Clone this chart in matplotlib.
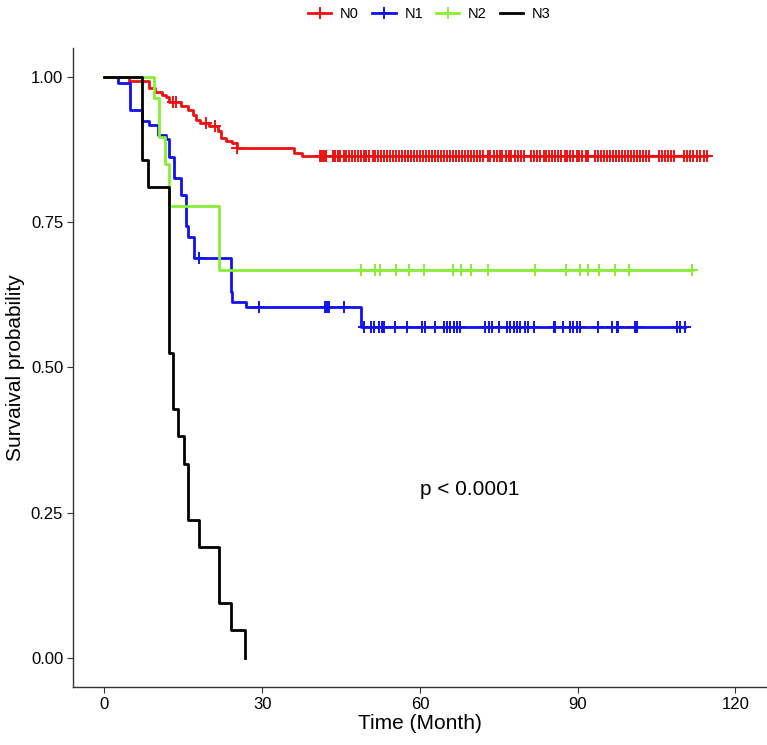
import numpy as np
import matplotlib
matplotlib.use('Agg')
import matplotlib.pyplot as plt
from matplotlib.lines import Line2D

plt.rcParams['font.family'] = ['Liberation Sans', 'DejaVu Sans']

# Kaplan-Meier step data (time in months, survival)
n0_time = [0, 4.7, 8.5, 9.7, 10.9, 11.7, 12.3, 14.5, 15.8, 16.8, 17.4, 18.2,
           19.9, 21.6, 22.1, 23.1, 24.3, 25.3, 36.0, 37.6]
n0_surv = [1.0, 0.992, 0.981, 0.973, 0.969, 0.965, 0.957, 0.949, 0.943, 0.935,
           0.926, 0.920, 0.916, 0.906, 0.894, 0.890, 0.886, 0.877, 0.869, 0.864]
n0_end = 114.5
n0_censor = [13.0, 13.7, 19.4, 21.0, 25.3,
             41.0, 41.4, 41.8, 42.2, 43.4, 43.9, 44.4, 44.8, 45.5, 46.0, 46.5,
             47.0, 47.6, 48.2, 48.7, 49.3, 49.8, 50.4, 51.0, 51.5, 52.1, 52.6,
             53.2, 53.8, 54.3, 54.9, 55.5, 56.0, 56.6, 57.2, 57.7, 58.3, 58.9,
             59.5, 60.0, 60.6, 61.2, 61.8, 62.3, 62.9, 63.5, 64.0, 64.6, 65.2,
             65.8, 66.3, 66.9, 67.5, 68.0, 68.6, 69.2, 69.8, 70.3, 70.9, 71.5,
             72.0, 72.9, 73.4, 74.0, 74.6, 75.2, 75.7, 76.3, 76.9, 77.4, 78.0,
             78.6, 79.2, 79.8, 81.2, 81.7, 82.3, 82.9, 83.5, 84.0, 84.6, 85.2,
             85.7, 86.3, 86.9, 87.5, 88.0, 88.6, 89.2, 89.8, 90.3, 90.9, 91.5,
             92.0, 93.3, 93.8, 94.4, 95.0, 95.5, 96.1, 96.7, 97.3, 97.8, 98.4,
             99.0, 99.6, 100.1, 100.7, 101.3, 101.8, 102.4, 103.0, 103.6, 105.4,
             106.0, 106.6, 107.2, 107.8, 108.4, 110.2, 110.8, 111.4, 112.0,
             112.6, 113.2, 114.0, 114.5]

n1_time = [0, 2.5, 4.9, 7.1, 8.5, 10.1, 11.7, 12.3, 13.3, 14.5, 15.5, 15.9,
           17.0, 24.0, 24.3, 26.9, 48.8]
n1_surv = [1.0, 0.989, 0.943, 0.924, 0.917, 0.900, 0.892, 0.862, 0.826, 0.797,
           0.743, 0.725, 0.688, 0.630, 0.612, 0.604, 0.570]
n1_end = 110.4
n1_censor = [17.9, 29.4, 41.9, 42.4, 42.8, 45.5, 49.3, 50.6, 51.2, 52.2, 52.7,
             53.1, 55.3, 57.6, 60.4, 61.0, 62.9, 64.5, 65.1, 65.8, 66.4, 67.0,
             67.7, 72.4, 73.1, 73.7, 75.0, 76.5, 77.2, 77.8, 78.4, 79.1, 79.9,
             80.6, 81.6, 85.4, 85.7, 87.3, 88.6, 89.2, 89.8, 90.5, 93.9, 96.5,
             97.4, 97.7, 100.9, 101.2, 108.8, 109.4, 110.4]

n2_time = [0, 9.5, 10.3, 11.5, 12.2, 21.7]
n2_surv = [1.0, 0.963, 0.897, 0.849, 0.778, 0.667]
n2_end = 111.8
n2_censor = [48.7, 51.4, 52.5, 55.5, 57.9, 60.8, 66.2, 67.8, 69.8, 72.9, 81.9,
             87.7, 90.5, 91.9, 94.1, 97.1, 99.8, 111.8]

n3_time = [0, 7.15, 8.2, 12.2, 13.0, 14.0, 15.2, 15.9, 17.9, 21.7, 24.0, 26.8]
n3_surv = [1.0, 0.857, 0.810, 0.524, 0.429, 0.381, 0.333, 0.238, 0.190, 0.095,
           0.048, 0.0]
n3_end = 26.8
n3_censor = []

groups = ['N0', 'N1', 'N2', 'N3']
colors = ['#EE1111', '#1111EE', '#88EE33', '#000000']

fig = plt.figure(figsize=(7.67, 7.45), dpi=100)
ax = fig.add_axes([0.095, 0.078, 0.905, 0.858])

curves = [(n0_time, n0_surv, n0_end, n0_censor),
          (n1_time, n1_surv, n1_end, n1_censor),
          (n2_time, n2_surv, n2_end, n2_censor),
          (n3_time, n3_surv, n3_end, n3_censor)]

for (t, s, end, cens), col in zip(curves, colors):
    t = np.array(t + [end])
    s = np.array(s + [s[-1]])
    ax.step(t, s, where='post', color=col, lw=2, zorder=3)
    if cens:
        cens = np.array(cens)
        idx = np.searchsorted(t, cens, side='right') - 1
        ax.plot(cens, s[idx], ls='none', marker='+', ms=9, mew=1.4,
                color=col, zorder=4)

ax.text(69.5, 0.29, 'p < 0.0001', fontsize=15, ha='center', va='center')

ax.set_xlim(-6, 126)
ax.set_ylim(-0.05, 1.05)
ax.set_xticks([0, 30, 60, 90, 120])
ax.set_yticks([0, 0.25, 0.5, 0.75, 1.0])
ax.set_yticklabels(['0.00', '0.25', '0.50', '0.75', '1.00'])
ax.tick_params(labelsize=12, length=4, color='#333333', pad=3)
ax.set_xlabel('Time (Month)', fontsize=15, labelpad=2)
ax.set_ylabel('Survaival probability', fontsize=15, labelpad=4)
for side in ['top', 'right']:
    ax.spines[side].set_visible(False)
for side in ['left', 'bottom']:
    ax.spines[side].set_color('#333333')
    ax.spines[side].set_linewidth(1.0)

handles = []
for g, col in zip(groups, colors):
    mk = '+' if g != 'N3' else None
    handles.append(Line2D([], [], color=col, lw=2, marker=mk, ms=9, mew=1.4))
fig.legend(handles, groups, loc='upper center', bbox_to_anchor=(0.56, 1.008),
           ncol=4, frameon=False, fontsize=10.5, handlelength=1.6,
           columnspacing=0.9, handletextpad=0.6)

fig.savefig('out.png', dpi=100)
